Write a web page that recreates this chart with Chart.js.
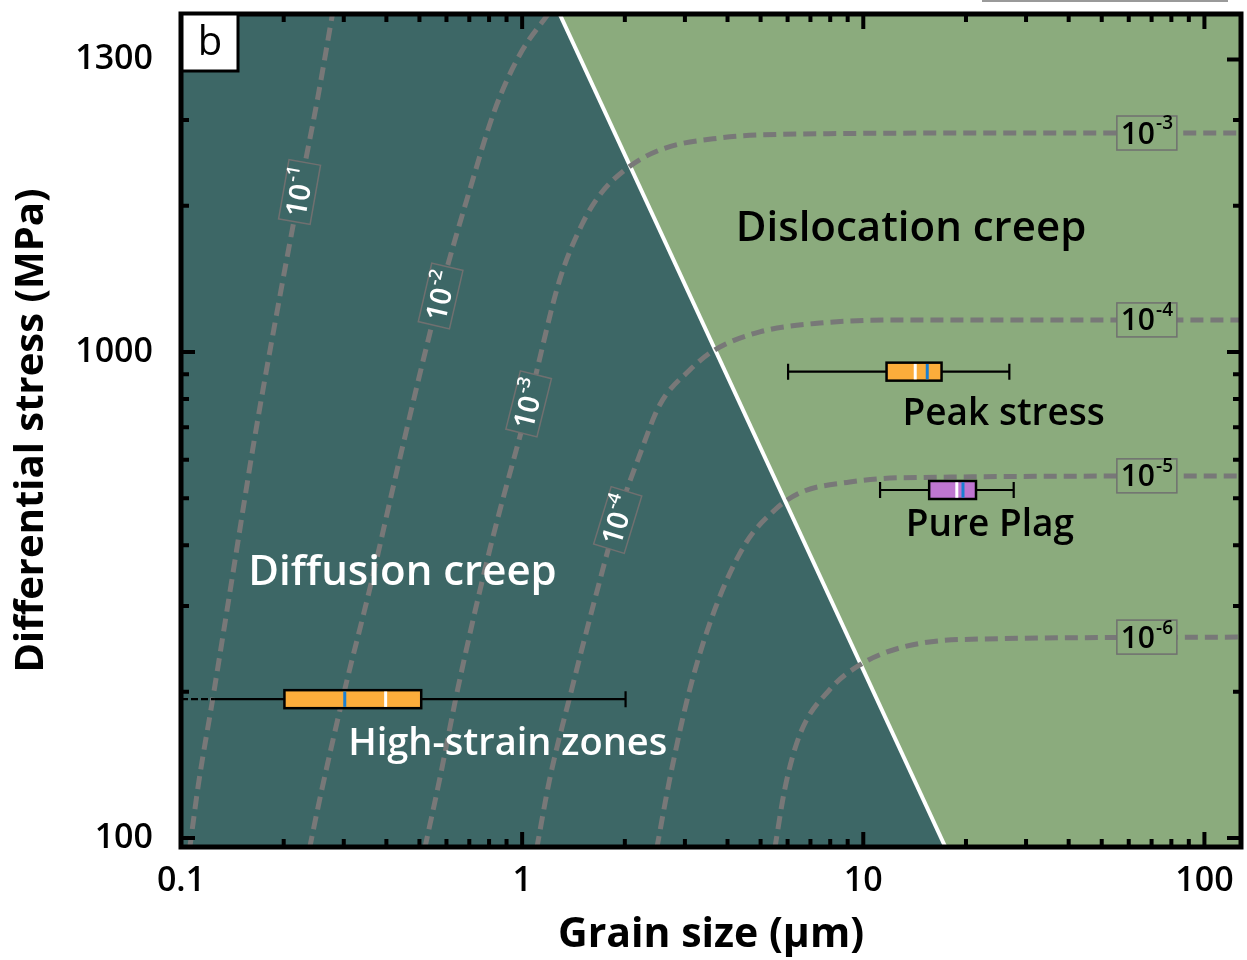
<!DOCTYPE html>
<html>
<head>
<meta charset="utf-8">
<script src="https://cdn.jsdelivr.net/npm/chart.js@4.4.1/dist/chart.umd.min.js"></script>
<style>
  html, body { margin: 0; padding: 0; background: #ffffff; }
  #wrap { width: 1247px; height: 960px; }
</style>
</head>
<body>
<div id="wrap"><canvas id="map" width="1247" height="960"></canvas></div>
<script>
// ---- axes -------------------------------------------------------------
const xTickValues = [0.1, 1, 10, 100];
const xTickLabels = ['0.1', '1', '10', '100'];
const yTickValues = [100, 1000, 4000];
const yTickLabels = ['100', '1000', '1300'];
const yMinorTicks = [200, 300, 400, 500, 600, 700, 800, 900, 2000, 3000];
const xRange = [0.1, 128];
const yRange = [95.8, 4960];

// ---- diffusion / dislocation creep boundary (grain size µm, stress MPa)
const boundaryGrain = [1.288, 17.4];
const boundaryStress = [4960, 95.8];

// ---- strain-rate contours (s^-1) ---------------------------------------
const contourExponents = [-1, -2, -3, -4, -5, -6];
const rate1Grain  = [0.106, 0.1125, 0.124, 0.141, 0.164, 0.194, 0.223, 0.251, 0.278];
const rate1Stress = [95, 129, 194, 340, 659, 1279, 2154, 3300, 4961];
const rate2Grain  = [0.238, 0.255, 0.302, 0.357, 0.437, 0.573, 0.702, 0.831, 0.983, 1.204];
const rate2Stress = [95, 120, 202, 324, 600, 1310, 2154, 3147, 4084, 5008];
const rate3Grain  = [0.518, 0.573, 0.647, 0.803, 1.052, 1.288, 1.495, 1.688, 1.998, 2.531, 3.795, 6.51, 25.1, 131];
const rate3Stress = [95, 132, 202, 391, 797, 1406, 1825, 2104, 2368, 2604, 2756, 2809, 2822, 2822];
const rate4Grain  = [1.103, 1.204, 1.397, 1.632, 1.893, 2.211, 2.531, 3.099, 3.669, 4.972, 7.456, 12.79, 131];
const rate4Stress = [95, 132, 202, 309, 451, 614, 778, 918, 1010, 1100, 1147, 1164, 1164];
const rate5Grain  = [2.48, 2.707, 3.099, 3.669, 4.493, 5.502, 6.513, 9.13, 12.79, 131];
const rate5Stress = [95, 132, 202, 295, 401, 473, 513, 540, 551, 556];
const rate6Grain  = [5.502, 5.886, 6.513, 7.975, 9.765, 12.79, 19.19, 131];
const rate6Stress = [95, 126, 163, 202, 227, 246, 256, 259];

// ---- grain-size statistics ---------------------------------------------
const boxGroups   = ['High-strain zones', 'Peak stress', 'Pure Plag'];
const boxStress   = [193, 911, 520];
const whiskerLow  = [0.125, 6.02, 11.2];
const boxLow      = [0.201, 11.7, 15.6];
const boxMedian   = [0.398, 14.2, 18.8];
const boxMean     = [0.302, 15.4, 19.6];
const boxHigh     = [0.506, 16.96, 21.4];
const whiskerHigh = [2.01, 26.8, 27.6];

// ---- styling & label placement ----------------------------------------
const FONT = '"Open Sans", "Noto Sans", "DejaVu Sans", sans-serif';
const COLORS = {
  diffusion: '#3d6766',
  dislocation: '#8bab7d',
  contour: '#787878',
  boundary: '#ffffff',
  labelEdge: '#707070',
  median: '#ffffff',
  mean: '#1a7fd2'
};
const boxFill = ['#fcad3b', '#fcad3b', '#bf76d1'];
const boxOpenLow = [true, false, false];

const rightLabelGrain = 67.8;
const slopedLabels = [
  { grain: 0.2226, stress: 2134, angle: -80 },
  { grain: 0.5768, stress: 1304, angle: -77 },
  { grain: 1.045,  stress: 782,  angle: -76 },
  { grain: 1.906,  stress: 451,  angle: -73 }
];
const textLabels = [
  { text: 'Diffusion creep',   grain: 0.446, stress: 351,  color: '#ffffff', size: 42 },
  { text: 'Dislocation creep', grain: 13.8,  stress: 1791, color: '#000000', size: 42 },
  { text: 'Peak stress',       grain: 25.8,  stress: 745,  color: '#000000', size: 37 },
  { text: 'Pure Plag',         grain: 23.5,  stress: 439,  color: '#000000', size: 37 },
  { text: 'High-strain zones', grain: 0.907, stress: 155.6, color: '#ffffff', size: 38 }
];

// ---- helpers ------------------------------------------------------------
const pairs = (xs, ys) => xs.map((v, i) => ({ x: v, y: ys[i] }));
const contours = [
  pairs(rate1Grain, rate1Stress), pairs(rate2Grain, rate2Stress),
  pairs(rate3Grain, rate3Stress), pairs(rate4Grain, rate4Stress),
  pairs(rate5Grain, rate5Stress), pairs(rate6Grain, rate6Stress)
];

function drawPower(ctx, exp, cx, cy, baseSize, color) {
  const base = '10';
  const sup = String(exp);
  const supSize = Math.round(baseSize * 0.62);
  ctx.font = `600 ${baseSize}px ${FONT}`;
  const wb = ctx.measureText(base).width;
  ctx.font = `600 ${supSize}px ${FONT}`;
  const ws = ctx.measureText(sup).width;
  const x0 = cx - (wb + ws + 1) / 2;
  ctx.fillStyle = color;
  ctx.textAlign = 'left';
  ctx.textBaseline = 'middle';
  ctx.font = `600 ${baseSize}px ${FONT}`;
  ctx.fillText(base, x0, cy + 2);
  ctx.font = `600 ${supSize}px ${FONT}`;
  ctx.fillText(sup, x0 + wb + 1, cy - baseSize * 0.3);
}

function minorX() {
  const out = [];
  xTickValues.forEach(dec => {
    for (let k = 2; k <= 9; k++) {
      const v = k * dec;
      if (v < xRange[1]) out.push(v);
    }
  });
  return out;
}

const mapPlugin = {
  id: 'mechanismMap',
  beforeDraw(chart) {
    const { ctx, chartArea: a } = chart;
    ctx.save();
    ctx.fillStyle = COLORS.dislocation;
    ctx.fillRect(a.left, a.top, a.right - a.left, a.bottom - a.top);
    ctx.restore();
  },
  afterDatasetsDraw(chart) {
    const { ctx, chartArea: a, scales: { x, y } } = chart;
    ctx.save();
    ctx.beginPath();
    ctx.rect(a.left, a.top, a.right - a.left, a.bottom - a.top);
    ctx.clip();

    // contour labels on the flat (dislocation) branches
    contourExponents.forEach((e, i) => {
      if (e > -3) return;
      const pts = contours[i];
      const cx = x.getPixelForValue(rightLabelGrain);
      const cy = y.getPixelForValue(pts[pts.length - 1].y);
      ctx.fillStyle = COLORS.dislocation;
      ctx.fillRect(cx - 30, cy - 17, 60, 34);
      ctx.strokeStyle = COLORS.labelEdge;
      ctx.lineWidth = 1.5;
      ctx.strokeRect(cx - 30, cy - 17, 60, 34);
      drawPower(ctx, e, cx, cy, 30, '#000000');
    });

    // contour labels on the diffusion branches
    slopedLabels.forEach((s, i) => {
      const cx = x.getPixelForValue(s.grain);
      const cy = y.getPixelForValue(s.stress);
      ctx.save();
      ctx.translate(cx, cy);
      ctx.rotate(s.angle * Math.PI / 180);
      ctx.fillStyle = COLORS.diffusion;
      ctx.fillRect(-30, -16, 60, 32);
      ctx.strokeStyle = COLORS.labelEdge;
      ctx.lineWidth = 1.5;
      ctx.strokeRect(-30, -16, 60, 32);
      drawPower(ctx, contourExponents[i], 0, 0, 29, '#ffffff');
      ctx.restore();
    });

    // box plots
    boxGroups.forEach((g, i) => {
      const cy = y.getPixelForValue(boxStress[i]);
      const xl = x.getPixelForValue(whiskerLow[i]);
      const x1 = x.getPixelForValue(boxLow[i]);
      const x3 = x.getPixelForValue(boxHigh[i]);
      const xh = x.getPixelForValue(whiskerHigh[i]);
      const h = 9;
      ctx.strokeStyle = '#000000';
      ctx.lineWidth = 2.2;
      ctx.beginPath();
      ctx.moveTo(xl, cy); ctx.lineTo(x1, cy);
      ctx.moveTo(x3, cy); ctx.lineTo(xh, cy);
      ctx.moveTo(xh, cy - 8); ctx.lineTo(xh, cy + 8);
      if (!boxOpenLow[i]) { ctx.moveTo(xl, cy - 8); ctx.lineTo(xl, cy + 8); }
      ctx.stroke();
      if (boxOpenLow[i]) {
        ctx.save();
        ctx.setLineDash([7, 3]);
        ctx.beginPath();
        ctx.moveTo(a.left, cy); ctx.lineTo(xl, cy);
        ctx.stroke();
        ctx.restore();
      }
      ctx.fillStyle = boxFill[i];
      ctx.fillRect(x1, cy - h, x3 - x1, 2 * h);
      ctx.lineWidth = 2.5;
      ctx.strokeRect(x1, cy - h, x3 - x1, 2 * h);
      [[boxMedian[i], COLORS.median], [boxMean[i], COLORS.mean]].forEach(([v, c]) => {
        const xm = x.getPixelForValue(v);
        ctx.strokeStyle = c;
        ctx.lineWidth = 3;
        ctx.beginPath();
        ctx.moveTo(xm, cy - h + 1.3); ctx.lineTo(xm, cy + h - 1.3);
        ctx.stroke();
      });
    });

    // region and sample names
    textLabels.forEach(t => {
      ctx.font = `600 ${t.size}px ${FONT}`;
      ctx.fillStyle = t.color;
      ctx.textAlign = 'center';
      ctx.textBaseline = 'middle';
      ctx.fillText(t.text, x.getPixelForValue(t.grain), y.getPixelForValue(t.stress));
    });
    ctx.restore();
  },
  afterDraw(chart) {
    const { ctx, chartArea: a, scales: { x, y } } = chart;
    ctx.save();
    // inward ticks on all four sides
    ctx.strokeStyle = '#000000';
    ctx.lineWidth = 4;
    const tickX = (v, len) => {
      const px = x.getPixelForValue(v);
      ctx.beginPath();
      ctx.moveTo(px, a.bottom); ctx.lineTo(px, a.bottom - len);
      ctx.moveTo(px, a.top); ctx.lineTo(px, a.top + len);
      ctx.stroke();
    };
    const tickY = (v, len) => {
      const py = y.getPixelForValue(v);
      ctx.beginPath();
      ctx.moveTo(a.left, py); ctx.lineTo(a.left + len, py);
      ctx.moveTo(a.right, py); ctx.lineTo(a.right - len, py);
      ctx.stroke();
    };
    xTickValues.forEach(v => tickX(v, 15));
    minorX().forEach(v => tickX(v, 8));
    yTickValues.forEach(v => tickY(v, 14));
    yMinorTicks.forEach(v => tickY(v, 8));

    // frame
    ctx.lineWidth = 5;
    ctx.strokeRect(a.left, a.top, a.right - a.left, a.bottom - a.top);

    // panel letter
    ctx.fillStyle = '#ffffff';
    ctx.fillRect(a.left + 1, a.top, 56, 57);
    ctx.lineWidth = 3;
    ctx.strokeRect(a.left + 1, a.top, 56, 57);
    ctx.fillStyle = '#000000';
    ctx.font = `400 40px ${FONT}`;
    ctx.textAlign = 'center';
    ctx.textBaseline = 'middle';
    ctx.fillText('b', a.left + 29, a.top + 30);

    // edge of the panel above
    ctx.strokeStyle = '#9a9a9a';
    ctx.lineWidth = 2;
    ctx.beginPath();
    ctx.moveTo(982, 1); ctx.lineTo(1228, 1);
    ctx.stroke();
    ctx.restore();
  }
};

const datasets = [
  {
    // diffusion-creep field
    data: [{ x: xRange[0], y: yRange[1] }].concat(pairs(boundaryGrain, boundaryStress)),
    showLine: true, fill: 'start', backgroundColor: COLORS.diffusion,
    borderWidth: 0, pointRadius: 0, order: 10
  },
  {
    // mechanism boundary
    data: pairs(boundaryGrain, boundaryStress),
    showLine: true, fill: false, borderColor: COLORS.boundary,
    borderWidth: 4, pointRadius: 0, order: 5
  }
].concat(contours.map(pts => ({
  data: pts,
  showLine: true, fill: false, borderColor: COLORS.contour,
  borderWidth: 5, borderDash: [13, 7], pointRadius: 0,
  cubicInterpolationMode: 'monotone', order: 1
})));

new Chart(document.getElementById('map'), {
  type: 'scatter',
  data: { datasets },
  options: {
    responsive: false,
    animation: false,
    devicePixelRatio: 1,
    layout: { padding: { top: 14, right: 6, left: 0, bottom: 0 } },
    plugins: { legend: { display: false }, tooltip: { enabled: false } },
    scales: {
      x: {
        type: 'logarithmic', position: 'bottom',
        min: xRange[0], max: xRange[1],
        afterFit: s => { s.height = 113; s.paddingLeft = 0; s.paddingRight = 0; },
        afterBuildTicks: s => { s.ticks = xTickValues.map(v => ({ value: v })); },
        ticks: {
          autoSkip: false, maxRotation: 0, padding: 14, color: '#000000',
          font: { family: FONT, size: 34, weight: '600' },
          callback: (v, i) => xTickLabels[i]
        },
        grid: { display: false, drawTicks: false },
        border: { display: false },
        title: {
          display: true, text: 'Grain size (µm)', color: '#000000',
          font: { family: FONT, size: 41, weight: '700', lineHeight: 1 },
          padding: { top: 0, bottom: 4 }
        }
      },
      y: {
        type: 'logarithmic', position: 'left',
        min: yRange[0], max: yRange[1],
        afterFit: s => { s.width = 181; s.paddingTop = 0; s.paddingBottom = 0; },
        afterBuildTicks: s => { s.ticks = yTickValues.map(v => ({ value: v })); },
        ticks: {
          autoSkip: false, padding: 28, color: '#000000',
          font: { family: FONT, size: 34, weight: '600' },
          callback: (v, i) => yTickLabels[i]
        },
        grid: { display: false, drawTicks: false },
        border: { display: false },
        title: {
          display: true, text: 'Differential stress (MPa)', color: '#000000',
          font: { family: FONT, size: 40, weight: '700', lineHeight: 1 },
          padding: { top: 12, bottom: 0 }
        }
      }
    }
  },
  plugins: [mapPlugin]
});
</script>
</body>
</html>
